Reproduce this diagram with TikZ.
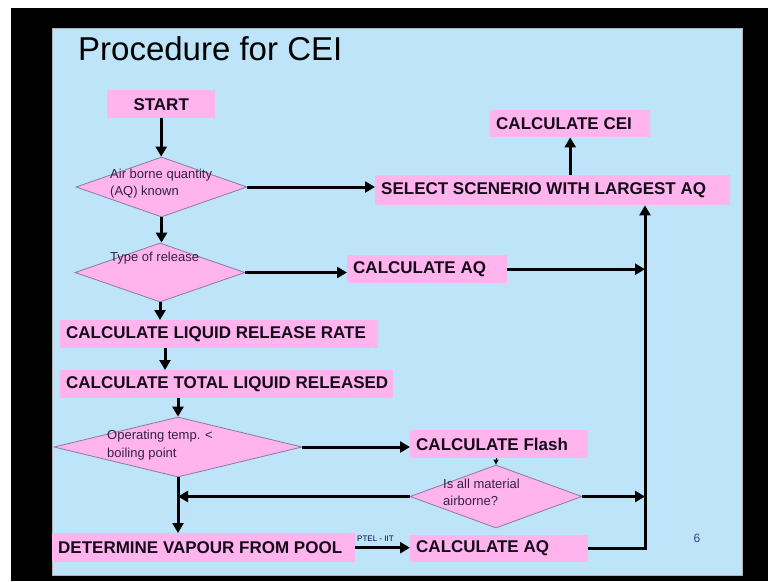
\documentclass[tikz,border=0pt]{standalone}
\usepackage{fontspec}
\setmainfont{Liberation Sans}
\usetikzlibrary{arrows.meta,shapes.geometric}
\definecolor{slidebg}{RGB}{190,228,250}
\definecolor{boxpink}{RGB}{255,180,238}
\definecolor{dtext}{RGB}{50,35,65}
\definecolor{dborder}{RGB}{140,120,160}
\definecolor{btext}{RGB}{20,10,25}
\newcommand{\bxt}[2]{\makebox[#1][l]{#2}}
\begin{document}
\begin{tikzpicture}[x=1pt,y=-1pt,
  box/.style={fill=boxpink, inner xsep=6pt, inner ysep=0pt, anchor=north west,
    font=\bfseries\fontsize{17}{20}\selectfont, text=btext},
  dia/.style={diamond, draw=dborder, line width=0.8pt, fill=boxpink, inner sep=0pt},
  dt/.style={anchor=base west, inner sep=0pt, font=\fontsize{13}{15}\selectfont, text=dtext},
  arr/.style={line width=3pt, draw=black, -{Triangle[length=10pt,width=11pt]}},
  tinyarr/.style={line width=1pt, draw=black, -{Triangle[length=5pt,width=5pt]}}]
\useasboundingbox (0,0) rectangle (768,581);
\fill[white] (0,0) rectangle (768,581);
\fill[black] (11,8) rectangle (768,581);
\fill[slidebg] (52,28) rectangle (742,575);
\draw[gray!60, line width=0.8pt] (52,28) rectangle (742,575);

\node[anchor=base west, inner sep=0pt, font=\fontsize{33}{38}\selectfont, text=black] (title) at (78,60) {Procedure for CEI};
\node[anchor=base west, inner sep=0pt, font=\fontsize{8}{9}\selectfont, text=blue!30!black] (foot) at (357,541) {PTEL - IIT};
\node[font=\fontsize{12}{14}\selectfont, text=gray!60!blue!80!black] (pg) at (697,538) {6};

% boxes
\node[box, minimum width=108pt, minimum height=28pt] (start) at (107,90) {START};
\node[box, minimum height=27pt] (cei) at (490,110) {\bxt{148pt}{CALCULATE CEI}};
\node[box, minimum height=30pt] (select) at (375,175) {\bxt{343pt}{SELECT SCENERIO WITH LARGEST AQ}};
\node[box, minimum height=28pt] (aq1) at (347,255) {\bxt{148pt}{CALCULATE AQ}};
\node[box, minimum height=28pt] (rate) at (60,320) {\bxt{306pt}{CALCULATE LIQUID RELEASE RATE}};
\node[box, minimum height=28pt] (total) at (60,370) {\bxt{321pt}{CALCULATE TOTAL LIQUID RELEASED}};
\node[box, minimum height=28pt] (flash) at (410,430) {\bxt{166pt}{CALCULATE Flash}};
\node[box, minimum height=27pt] (aq2) at (410,535) {\bxt{166pt}{CALCULATE AQ}};
\node[box, minimum height=29pt] (det) at (52,533) {\bxt{291pt}{DETERMINE VAPOUR FROM POOL}};

% diamonds
\node[dia, minimum width=171pt, minimum height=60pt] (d1) at (161.5,187) {};
\node[dia, minimum width=170pt, minimum height=59pt] (d2) at (160,272.5) {};
\node[dia, minimum width=248pt, minimum height=60pt] (d3) at (178,447) {};
\node[dia, minimum width=172pt, minimum height=63pt] (d4) at (496,496.5) {};

\node[dt] (d1a) at (110,178) {Air borne quantity};
\node[dt] (d1b) at (110,195) {(AQ) known};
\node[dt] (d2a) at (110,261) {Type of release};
\node[dt] (d3a) at (107,439) {Operating temp. <};
\node[dt] (d3b) at (107,457) {boiling point};
\node[dt] (d4a) at (443,488) {Is all material};
\node[dt] (d4b) at (443,505) {airborne?};

% connectors
\coordinate (jx) at (645,0);
\coordinate (c1) at (165,0);
\draw[arr] (start.south) -- (start.south |- d1.north);
\draw[arr] (d1.east) -- (d1.east -| select.west);
\draw[arr] (select.north -| cei.south) -- (cei.south);
\draw[arr] (d1.south) -- (d1.south |- d2.north);
\draw[arr] (d2.east) -- (d2.east -| aq1.west);
\draw[arr] (aq1.east) -- (aq1.east -| jx);
\draw[arr] (d2.south) -- (d2.south |- rate.north);
\draw[arr] (rate.south -| c1) -- (total.north -| c1);
\draw[arr] (total.south -| d3.north) -- (d3.north);
\draw[arr] (d3.east) -- (d3.east -| flash.west);
\draw[tinyarr] (flash.south -| d4.north) -- (d4.north);
\draw[arr] (d4.east) -- (d4.east -| jx);
\draw[arr] (d4.west) -- (d4.west -| d3.south);
\draw[arr] (d3.south) -- (d3.south |- det.north);
\draw[arr] (det.east) -- (det.east -| aq2.west);
\draw[arr, line join=miter] (aq2.east) -- (aq2.east -| jx) -- (jx |- select.south);
\end{tikzpicture}
\end{document}
